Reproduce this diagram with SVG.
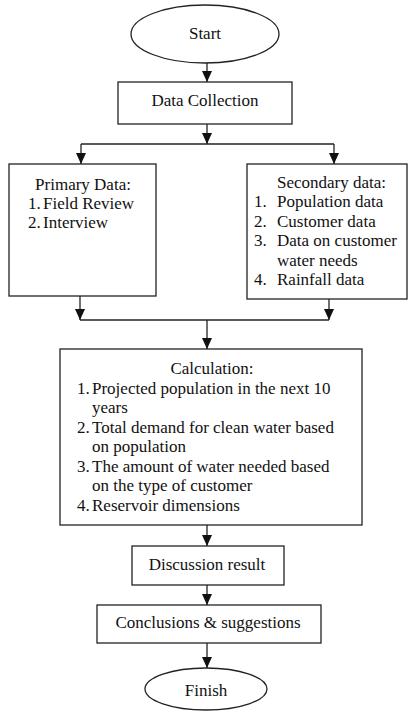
<svg xmlns="http://www.w3.org/2000/svg" width="409" height="711" viewBox="0 0 409 711">
<style>
.box{fill:#fff;stroke:#222;stroke-width:1.3}
.ln{fill:none;stroke:#222;stroke-width:1.3}
text{font-family:"Liberation Serif","Times New Roman",serif;font-size:17px;fill:#111}
.c{text-anchor:middle}
</style>
<defs>
<marker id="a" viewBox="0 0 11 10" refX="11" refY="5" markerWidth="11" markerHeight="10" markerUnits="userSpaceOnUse" orient="auto">
<path d="M0,0 L11,5 L0,10 Z" fill="#111"/>
</marker>
</defs>
<rect width="409" height="711" fill="#fff"/>
<g id="connectors">
<line class="ln" x1="207" y1="63" x2="207" y2="82" marker-end="url(#a)"/>
<line class="ln" x1="207" y1="124" x2="207" y2="144" marker-end="url(#a)"/>
<line class="ln" x1="81" y1="144" x2="334" y2="144"/>
<line class="ln" x1="81" y1="144" x2="81" y2="164" marker-end="url(#a)"/>
<line class="ln" x1="334" y1="144" x2="334" y2="164" marker-end="url(#a)"/>
<line class="ln" x1="80" y1="296" x2="80" y2="320" marker-end="url(#a)"/>
<line class="ln" x1="329" y1="299" x2="329" y2="320" marker-end="url(#a)"/>
<line class="ln" x1="80" y1="320" x2="329" y2="320"/>
<line class="ln" x1="207" y1="320" x2="207" y2="349" marker-end="url(#a)"/>
<line class="ln" x1="207" y1="525" x2="207" y2="546" marker-end="url(#a)"/>
<line class="ln" x1="207" y1="585" x2="207" y2="605" marker-end="url(#a)"/>
<line class="ln" x1="207" y1="643" x2="207" y2="668" marker-end="url(#a)"/>
</g>
<g id="start">
<ellipse class="box" cx="205" cy="34" rx="74" ry="29"/>
<text class="c" x="205" y="39">Start</text>
</g>
<g id="data-collection">
<rect class="box" x="118" y="82" width="174" height="42"/>
<text class="c" x="205" y="106">Data Collection</text>
</g>
<g id="primary">
<rect class="box" x="9" y="164" width="147" height="132"/>
<text class="c" x="83" y="190">Primary Data:</text>
<text x="28" y="209">1.</text><text x="43" y="209">Field Review</text>
<text x="28" y="228">2.</text><text x="43" y="228">Interview</text>
</g>
<g id="secondary">
<rect class="box" x="247" y="164" width="160" height="135"/>
<text x="277" y="188">Secondary data:</text>
<text x="254" y="207.4">1.</text><text x="277" y="207.4">Population data</text>
<text x="254" y="226.8">2.</text><text x="277" y="226.8">Customer data</text>
<text x="254" y="246.2">3.</text><text x="277" y="246.2">Data on customer</text>
<text x="277" y="265.6">water needs</text>
<text x="254" y="285">4.</text><text x="277" y="285">Rainfall data</text>
</g>
<g id="calculation">
<rect class="box" x="60" y="349" width="302" height="176"/>
<text class="c" x="212" y="374">Calculation:</text>
<text x="77" y="393.5">1.</text><text x="92" y="393.5">Projected population in the next 10</text>
<text x="92" y="413">years</text>
<text x="77" y="432.5">2.</text><text x="92" y="432.5">Total demand for clean water based</text>
<text x="92" y="452">on population</text>
<text x="77" y="471.5">3.</text><text x="92" y="471.5">The amount of water needed based</text>
<text x="92" y="491">on the type of customer</text>
<text x="77" y="510.5">4.</text><text x="92" y="510.5">Reservoir dimensions</text>
</g>
<g id="discussion">
<rect class="box" x="132" y="546" width="152" height="39"/>
<text class="c" x="207" y="570">Discussion result</text>
</g>
<g id="conclusions">
<rect class="box" x="97" y="605" width="224" height="38"/>
<text class="c" x="208" y="628">Conclusions &amp; suggestions</text>
</g>
<g id="finish">
<ellipse class="box" cx="206" cy="689" rx="61" ry="21"/>
<text class="c" x="206" y="696">Finish</text>
</g>
</svg>
